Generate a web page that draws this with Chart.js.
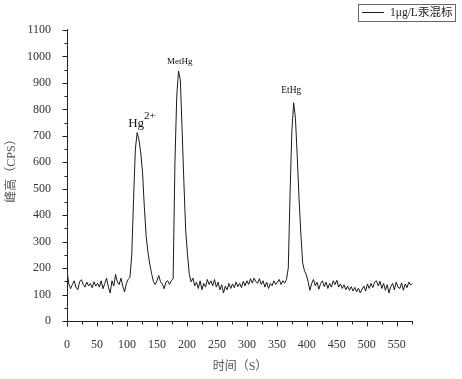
<!DOCTYPE html>
<html>
<head>
<meta charset="utf-8">
<script src="https://cdn.jsdelivr.net/npm/chart.js@4"></script>
<style>
html,body{margin:0;padding:0;background:#fff;}
canvas{display:block;}
</style>
</head>
<body>
<canvas id="c" width="462" height="379"></canvas>
<script>
// ---- data ----
const seriesName = "1μg/L汞混标";
const xTitle = "时间（S）";
const yTitle = "峰高（CPS）";
const xTickLabels = [0,50,100,150,200,250,300,350,400,450,500,550];
const yTickLabels = [0,100,200,300,400,500,600,700,800,900,1000,1100];
const times = [0,3,6,9,12,15,18,21,24,27,30,33,36,39,42,45,48,51,54,57,60,63,66,69,72,75,78,81,84,87,90,93,96,99,
102,105,108,111,114,117,120,123,126,129,132,135,138,141,144,147,150,153,156,159,162,165,168,171,174,177,180,183,186,189,
192,195,198,201,204,207,210,213,216,219,222,225,228,231,234,237,240,243,246,249,252,255,258,261,264,267,270,273,276,279,
282,285,288,291,294,297,300,303,306,309,312,315,318,321,324,327,330,333,336,339,342,345,348,351,354,357,360,363,366,369,
372,375,378,381,384,387,390,393,396,399,402,405,408,411,414,417,420,423,426,429,432,435,438,441,444,447,450,453,456,459,
462,465,468,471,474,477,480,483,486,489,492,495,498,501,504,507,510,513,516,519,522,525,528,531,534,537,540,543,546,549,
552,555,558,561,564,567,570,573,576];
const cps = [190,140,122,138,152,128,118,148,156,138,128,147,133,142,126,148,132,143,128,152,122,142,162,128,106,152,132,176,148,138,162,132,110,142,
157,165,250,460,650,712,685,635,560,430,320,260,215,180,150,138,152,172,148,140,122,147,152,138,152,160,600,850,945,912,
720,520,340,250,175,148,162,133,147,123,152,118,142,128,157,138,152,133,157,128,147,118,137,106,132,118,142,123,140,126,
147,130,142,126,150,133,152,138,160,143,162,148,143,160,138,152,128,147,123,142,133,152,138,147,157,138,152,143,157,200,
480,720,825,765,620,460,330,220,190,175,150,116,142,157,133,147,120,142,152,130,147,123,142,128,152,138,154,128,140,123,
137,118,132,116,130,113,127,110,124,106,120,132,113,140,123,142,126,147,152,133,150,123,142,116,137,106,130,142,118,147,
128,123,144,116,140,126,147,136,142];
const peakLabels = [
  {text:"MetHg", t:188, v:981, size:9},
  {text:"EtHg", t:374, v:870, size:9.5}
];
const hgLabel = {t:102, v:733};

const points = times.map((t,i)=>({x:t,y:cps[i]}));
const SERIF = '"Liberation Serif", "Times New Roman", serif';
const CJK = '"Liberation Serif", "Noto Sans CJK SC", serif';

const decor = {
  id:'decor',
  afterDraw(chart){
    const ctx = chart.ctx, xs = chart.scales.x, ys = chart.scales.y, a = chart.chartArea;
    ctx.save();
    ctx.strokeStyle = '#222'; ctx.lineWidth = 1;
    ctx.beginPath();
    ctx.moveTo(a.left+0.5, a.top-1); ctx.lineTo(a.left+0.5, a.bottom+0.5);
    ctx.lineTo(a.right, a.bottom+0.5);
    ctx.stroke();
    ctx.beginPath();
    for(let v=0; v<=1100; v+=50){
      const y = Math.round(ys.getPixelForValue(v))+0.5;
      const len = (v%100===0)?5:3;
      ctx.moveTo(a.left+0.5, y); ctx.lineTo(a.left+0.5-len, y);
    }
    for(let v=0; v<=575; v+=25){
      const x = Math.round(xs.getPixelForValue(v))+0.5;
      const len = (v%50===0)?5:3;
      ctx.moveTo(x, a.bottom+0.5); ctx.lineTo(x, a.bottom+0.5+len);
    }
    ctx.stroke();
    ctx.fillStyle = '#111';
    ctx.textAlign = 'center'; ctx.textBaseline = 'middle';
    peakLabels.forEach(p=>{
      ctx.font = p.size+'px '+SERIF;
      ctx.fillText(p.text, xs.getPixelForValue(p.t), ys.getPixelForValue(p.v));
    });
    const hx = xs.getPixelForValue(hgLabel.t), hy = ys.getPixelForValue(hgLabel.v);
    ctx.textAlign = 'left'; ctx.textBaseline = 'alphabetic';
    ctx.font = '13px '+SERIF;
    ctx.fillText('Hg', hx, hy);
    const w = ctx.measureText('Hg').width;
    ctx.font = '11px '+SERIF;
    ctx.fillText('2+', hx+w, hy-8);
    ctx.fillStyle = '#555';
    ctx.font = '12px '+CJK;
    ctx.textAlign = 'center'; ctx.textBaseline = 'middle';
    ctx.fillText(xTitle, (a.left+a.right)/2, 367);
    ctx.save();
    ctx.translate(12, 168);
    ctx.rotate(-Math.PI/2);
    ctx.fillText(yTitle, 0, 0);
    ctx.restore();
    // legend
    ctx.strokeStyle = '#666';
    ctx.strokeRect(358.5, 4.5, 97, 17);
    ctx.strokeStyle = '#222';
    ctx.beginPath(); ctx.moveTo(362, 12.5); ctx.lineTo(384, 12.5); ctx.stroke();
    ctx.fillStyle = '#222';
    ctx.textAlign = 'left'; ctx.textBaseline = 'middle';
    let fs = 13;
    ctx.font = fs+'px '+CJK;
    while (ctx.measureText(seriesName).width > 63 && fs > 8) { fs -= 0.5; ctx.font = fs+'px '+CJK; }
    ctx.fillText(seriesName, 390, 13);
    ctx.restore();
  }
};

new Chart(document.getElementById('c'), {
  type:'line',
  data:{datasets:[{label:seriesName, data:points, borderColor:'#1a1a1a', borderWidth:1, pointRadius:0, tension:0, fill:false}]},
  options:{
    responsive:false, animation:false, devicePixelRatio:1,
    layout:{padding:{top:30, right:49, left:0, bottom:0}},
    plugins:{legend:{display:false}, tooltip:{enabled:false}},
    scales:{
      x:{type:'linear', min:0, max:577,
        afterBuildTicks(s){ s.ticks = xTickLabels.map(v=>({value:v})); },
        afterFit(s){ s.height = 58; },
        grid:{display:false}, border:{display:false},
        ticks:{autoSkip:false, maxRotation:0, padding:9, color:'#333', font:{family:SERIF, size:12}, callback:(v)=>String(v)}
      },
      y:{type:'linear', min:0, max:1100,
        afterBuildTicks(s){ s.ticks = yTickLabels.map(v=>({value:v})); },
        afterFit(s){ s.width = 67; },
        grid:{display:false}, border:{display:false},
        ticks:{autoSkip:false, padding:8, color:'#333', font:{family:SERIF, size:12}, callback:(v)=>String(v)}
      }
    }
  },
  plugins:[decor]
});
</script>
</body>
</html>
